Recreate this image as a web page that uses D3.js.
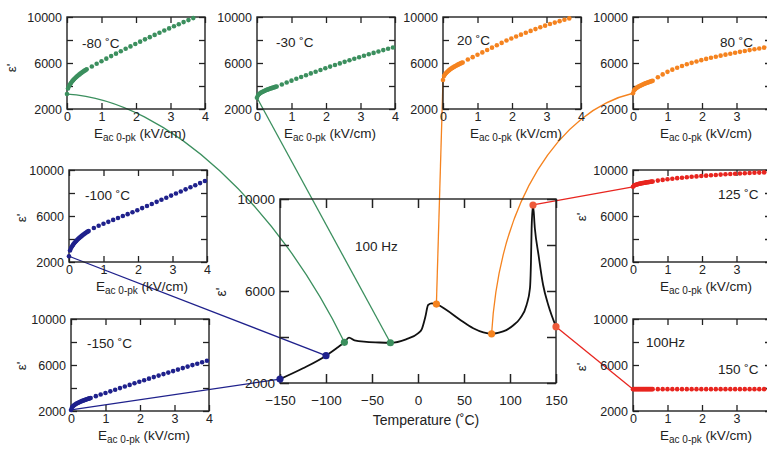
<!DOCTYPE html>
<html>
<head>
<meta charset="utf-8">
<script src="https://cdn.jsdelivr.net/npm/d3@7"></script>
<style>
  body { margin: 0; background: #fff; }
  svg { display: block; font-family: "Liberation Sans", Arial, sans-serif; }
</style>
</head>
<body>
<div id="chart"></div>
<script>
// ac field sweep (kV/cm), same for every panel
var eField = [0, 0.03, 0.06, 0.09, 0.12, 0.15, 0.18, 0.21, 0.24, 0.27, 0.30, 0.33, 0.36, 0.39, 0.42, 0.45, 0.48, 0.51, 0.54, 0.57,
  0.72, 0.86, 1.00, 1.14, 1.28, 1.42, 1.56, 1.70, 1.84, 1.98, 2.12, 2.26, 2.40, 2.54, 2.68, 2.82, 2.96, 3.10, 3.24, 3.38, 3.52, 3.66, 3.80, 3.94];

// permittivity vs field at each temperature
var epsM150 = [2090, 2328, 2427, 2503, 2567, 2624, 2674, 2721, 2765, 2806, 2844, 2881, 2917, 2950, 2982, 3014, 3045, 3074, 3102, 3130,
  3290, 3430, 3570, 3710, 3850, 3990, 4130, 4270, 4410, 4545, 4680, 4815, 4950, 5080, 5210, 5340, 5470, 5600, 5730, 5860, 5990, 6115, 6240, 6365];
var epsM100 = [2500, 3004, 3213, 3373, 3510, 3629, 3736, 3835, 3928, 4014, 4095, 4174, 4249, 4319, 4388, 4454, 4520, 4581, 4641, 4700,
  4960, 5150, 5320, 5490, 5660, 5830, 5995, 6160, 6325, 6506, 6687, 6868, 7049, 7230, 7411, 7592, 7773, 7954, 8135, 8316, 8497, 8678, 8859, 9040];
var epsM80 = [3300, 3792, 3997, 4154, 4287, 4403, 4508, 4605, 4695, 4779, 4859, 4936, 5009, 5078, 5145, 5209, 5274, 5334, 5392, 5450,
  5700, 5930, 6155, 6380, 6600, 6815, 7025, 7235, 7445, 7650, 7855, 8055, 8250, 8445, 8635, 8825, 9010, 9195, 9375, 9555, 9730, 9905];
var epsM30 = [2980, 3202, 3294, 3365, 3425, 3478, 3525, 3569, 3610, 3647, 3683, 3718, 3751, 3782, 3812, 3841, 3870, 3898, 3924, 3950,
  4130, 4300, 4465, 4625, 4785, 4940, 5095, 5245, 5395, 5540, 5685, 5825, 5965, 6100, 6235, 6370, 6500, 6630, 6755, 6880, 7000, 7120, 7235, 7345];
var eps20 = [4520, 4870, 5016, 5127, 5222, 5305, 5380, 5449, 5513, 5573, 5629, 5684, 5736, 5785, 5833, 5879, 5925, 5967, 6009, 6050,
  6302, 6509, 6715, 6922, 7128, 7335, 7542, 7748, 7955, 8130, 8300, 8465, 8630, 8790, 8950, 9105, 9250, 9385, 9515, 9640, 9760, 9880];
var eps80 = [3370, 3617, 3720, 3799, 3866, 3924, 3977, 4026, 4071, 4113, 4153, 4192, 4229, 4263, 4297, 4329, 4361, 4392, 4421, 4450,
  4760, 5010, 5230, 5420, 5590, 5745, 5885, 6015, 6135, 6250, 6355, 6455, 6550, 6640, 6725, 6810, 6890, 6970, 7045, 7120, 7195, 7265, 7335, 7400];
var eps125 = [8540, 8645, 8689, 8723, 8751, 8776, 8799, 8819, 8839, 8856, 8874, 8890, 8906, 8920, 8935, 8948, 8962, 8975, 8988, 9000,
  9080, 9140, 9190, 9240, 9290, 9330, 9370, 9410, 9445, 9480, 9510, 9540, 9570, 9600, 9625, 9650, 9675, 9695, 9715, 9735, 9755, 9775, 9790, 9805];
var eps150 = [3900, 3900, 3900, 3900, 3900, 3900, 3900, 3900, 3900, 3900, 3900, 3900, 3900, 3900, 3900, 3900, 3900, 3900, 3900, 3900,
  3900, 3900, 3900, 3900, 3900, 3900, 3900, 3900, 3900, 3900, 3900, 3900, 3900, 3900, 3900, 3900, 3900, 3900, 3900, 3900, 3900, 3900, 3900, 3900];

// low field permittivity vs temperature, 100 Hz
var mainTemp = [-150, -125, -100, -88, -80, -75, -69, -56, -42, -30, -13, 0, 4, 8, 11, 15, 20, 31, 46, 60, 71, 80, 88, 96, 104, 111,
  118, 121.7, 122.8, 123.5, 125, 127, 131, 136, 141.6, 150];
var mainEps = [2170, 2640, 3190, 3530, 3770, 3970, 3850, 3790, 3760, 3750, 3900, 4160, 4330, 4880, 5390, 5460, 5430, 5170, 4740, 4380, 4200, 4140, 4190, 4300, 4520, 4810,
  5390, 6120, 7270, 8730, 9740, 8730, 7570, 6260, 5390, 4450];

var markTemp = [-150, -100, -80, -30, 20, 80, 125, 150];
var markEps = [2170, 3190, 3770, 3750, 5430, 4140, 9740, 4450];

var panelXTicks = [0, 1, 2, 3, 4];
var panelYTicks = [2000, 4000, 6000, 8000, 10000];
var yLabelled = [2000, 6000, 10000];
var mainXTicks = [-150, -100, -50, 0, 50, 100, 150];

var green = "#3b8f5e", navy = "#1f218c", orange = "#f5831f", red = "#e8251f", redDot = "#ee5a3a";
var ink = "#222";

var W = 767, H = 449;
var pw = 138, ph = 92;

// layout of the small panels
var panels = [
  { name: "-80 ˚C", data: epsM80, temp: -80, color: green, x: 67, y: 17, lx: 15, ly: 31, yl: [12, 68] },
  { name: "-30 ˚C", data: epsM30, temp: -30, color: green, x: 257, y: 17, lx: 19, ly: 30 },
  { name: "20 ˚C", data: eps20, temp: 20, color: orange, x: 443, y: 17, lx: 14, ly: 28 },
  { name: "80 ˚C", data: eps80, temp: 80, color: orange, x: 633, y: 17, lx: 87, ly: 30 },
  { name: "-100 ˚C", data: epsM100, temp: -100, color: navy, x: 69, y: 170, lx: 16, ly: 30, yl: [22, 218] },
  { name: "-150 ˚C", data: epsM150, temp: -150, color: navy, x: 71, y: 319, lx: 16, ly: 29, yl: [22, 366] },
  { name: "125 ˚C", data: eps125, temp: 125, color: red, x: 633, y: 170, lx: 85, ly: 29, yl: [582, 217] },
  { name: "150 ˚C", data: eps150, temp: 150, color: red, x: 633, y: 319, lx: 85, ly: 55, yl: [582, 367], extra: "100Hz" }
];

var svg = d3.select("#chart").append("svg")
  .attr("width", W)
  .attr("height", H);
svg.append("rect").attr("width", W).attr("height", H).attr("fill", "#fff");

// main plot scales
var mx = d3.scaleLinear().domain([-150, 150]).range([280, 556]);
var my = d3.scaleLinear().domain([2000, 10000]).range([383, 199]);

var gLines = svg.append("g");
var gPanels = svg.append("g");
var gMain = svg.append("g");

var fmt = d3.format("d");

function frameAxes(g, x, y, xTicks, tick, xPad, yPad, fs) {
  var x0 = x.range()[0], x1 = x.range()[1];
  var y0 = y.range()[0], y1 = y.range()[1];
  // labels that would land past the window edge are left out, as in the figure
  g.append("g")
    .attr("transform", `translate(0,${y0})`)
    .call(d3.axisBottom(x).tickValues(xTicks).tickSizeInner(-tick).tickSizeOuter(0).tickPadding(xPad)
      .tickFormat(d => x(d) + 4 > W ? "" : fmt(d)));
  g.append("g")
    .attr("transform", `translate(0,${y1})`)
    .call(d3.axisTop(x).tickValues(xTicks).tickSizeInner(-tick).tickSizeOuter(0).tickFormat(""));
  g.append("g")
    .attr("transform", `translate(${x0},0)`)
    .call(d3.axisLeft(y).tickValues(panelYTicks).tickSizeInner(-tick).tickSizeOuter(0).tickPadding(yPad)
      .tickFormat(d => yLabelled.includes(d) ? fmt(d) : ""));
  g.append("g")
    .attr("transform", `translate(${x1},0)`)
    .call(d3.axisRight(y).tickValues(panelYTicks).tickSizeInner(-tick).tickSizeOuter(0).tickFormat(""));
  g.selectAll(".domain").remove();
  g.selectAll(".tick line").attr("stroke", ink).attr("stroke-width", 1.3);
  g.selectAll(".tick text").attr("fill", ink).style("font-size", fs + "px").style("font-family", "Liberation Sans, Arial, sans-serif");
  g.append("rect")
    .attr("x", x0).attr("y", y1)
    .attr("width", x1 - x0).attr("height", y0 - y1)
    .attr("fill", "none").attr("stroke", ink).attr("stroke-width", 1.4);
}

// main plot
frameAxes(gMain, mx, my, mainXTicks, 9, 12, 5, 13.5);
gMain.selectAll(".tick line").attr("stroke-width", 1.5);

var line = d3.line()
  .x((d, i) => mx(mainTemp[i]))
  .y(d => my(d))
  .curve(d3.curveMonotoneX);
gMain.append("path")
  .attr("d", line(mainEps))
  .attr("fill", "none")
  .attr("stroke", "#111")
  .attr("stroke-width", 1.8);

gMain.append("text")
  .attr("x", 355).attr("y", 251)
  .attr("fill", ink).style("font-size", "13.5px")
  .text("100 Hz");
gMain.append("text")
  .attr("x", mx(0) + 8).attr("y", 425)
  .attr("text-anchor", "middle")
  .attr("fill", ink).style("font-size", "14px")
  .text("Temperature (˚C)");
gMain.append("text")
  .attr("transform", "translate(226,292) rotate(-90)")
  .attr("text-anchor", "middle")
  .attr("fill", ink).style("font-size", "14px")
  .text("ε'");

// the small panels
panels.forEach(function (p) {
  var g = gPanels.append("g");
  var x = d3.scaleLinear().domain([0, 4]).range([p.x, p.x + pw]);
  var y = d3.scaleLinear().domain([2000, 10000]).range([p.y + ph, p.y]);
  p.sx = x; p.sy = y;
  frameAxes(g, x, y, panelXTicks, 6, 3, 5, 12.5);

  g.append("g").selectAll("circle")
    .data(p.data)
    .join("circle")
    .attr("cx", (d, i) => x(eField[i]))
    .attr("cy", d => y(d))
    .attr("r", 2.3)
    .attr("fill", p.color);

  g.append("text")
    .attr("x", p.x + p.lx).attr("y", p.y + p.ly)
    .attr("fill", ink).style("font-size", "13.5px")
    .text(p.name);
  if (p.extra) {
    g.append("text")
      .attr("x", p.x + 13).attr("y", p.y + 28)
      .attr("fill", ink).style("font-size", "13.5px")
      .text(p.extra);
  }

  var xl = g.append("text")
    .attr("x", p.x + pw / 2 + 4).attr("y", p.y + ph + 29)
    .attr("text-anchor", "middle")
    .attr("fill", ink).style("font-size", "13.5px");
  xl.append("tspan").text("E");
  xl.append("tspan").attr("dy", 3).style("font-size", "10px").text("ac 0-pk");
  xl.append("tspan").attr("dy", -3).text(" (kV/cm)");

  if (p.yl) {
    g.append("text")
      .attr("transform", `translate(${p.yl[0] + 4},${p.yl[1]}) rotate(-90)`)
      .attr("text-anchor", "middle")
      .attr("fill", ink).style("font-size", "13.5px")
      .text("ε'");
  }
});

// connectors: from the zero field point of each panel to the main curve
var bends = {
  "-80": [[102, 6], [-64, -132]],
  "80": [[-73, 17], [8, -134]]
};
panels.forEach(function (p) {
  var x0 = p.sx(eField[0]), y0 = p.sy(p.data[0]);
  var k = markTemp.indexOf(p.temp);
  var x1 = mx(markTemp[k]), y1 = my(markEps[k]);
  var path = d3.path();
  path.moveTo(x0, y0);
  var b = bends[String(p.temp)];
  if (b) {
    path.bezierCurveTo(x0 + b[0][0], y0 + b[0][1], x1 + b[1][0], y1 + b[1][1], x1, y1);
  } else {
    path.lineTo(x1, y1);
  }
  gLines.append("path")
    .attr("d", path.toString())
    .attr("fill", "none")
    .attr("stroke", p.color)
    .attr("stroke-width", 1.3);
});

// marks on the main curve
var markColor = [navy, navy, green, green, orange, orange, redDot, redDot];
gMain.append("g").selectAll("circle")
  .data(markEps)
  .join("circle")
  .attr("cx", (d, i) => mx(markTemp[i]))
  .attr("cy", d => my(d))
  .attr("r", 3.6)
  .attr("fill", (d, i) => markColor[i]);
</script>
</body>
</html>
